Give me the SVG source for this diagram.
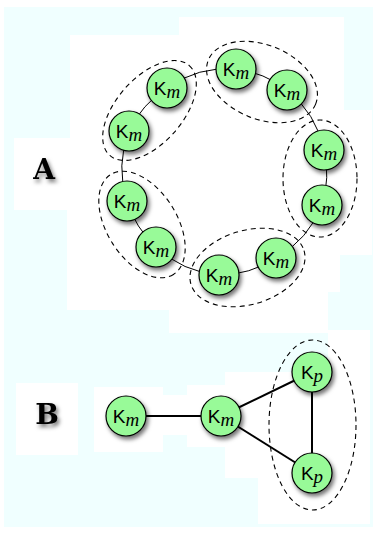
<svg xmlns="http://www.w3.org/2000/svg" width="378" height="533" viewBox="0 0 378 533">
<defs>
<filter id="sh" x="-30%" y="-30%" width="170%" height="170%">
<feDropShadow dx="2" dy="3" stdDeviation="2" flood-color="#000" flood-opacity="0.55"/>
</filter>
<style>
.node{fill:#98FA98;stroke:#000;stroke-width:1.2;filter:url(#sh)}
.lbl{font-size:19px;fill:#000}
.k{font-family:"Liberation Sans",Arial,sans-serif}
.s{font-family:"Liberation Serif","Times New Roman",serif;font-style:italic}
.grp{fill:none;stroke:#000;stroke-width:1.1;stroke-dasharray:5 4}
.ring{fill:none;stroke:#000;stroke-width:1}
.thick{fill:none;stroke:#000;stroke-width:2}
.big{font-family:"DejaVu Serif","Liberation Serif",serif;font-weight:bold;font-size:28px;fill:#000;filter:url(#sh)}
</style>
</defs>
<rect x="0" y="0" width="378" height="533" fill="#fff"/>
<rect x="4" y="7" width="369" height="520" fill="#F0FFFF"/>
<g id="background" fill="#fff">
<path d="M179,17 H344 V110 H372 V255 H340 V292 H328 V333 H169 V310 H67 V210 H14 V138 H70 V35 H179 Z"/>
<rect x="328" y="330" width="42" height="44"/>
<rect x="225" y="372" width="145" height="106"/>
<rect x="258" y="476" width="112" height="48"/>
<rect x="187" y="385" width="40" height="62"/>
<rect x="162" y="395" width="26" height="40"/>
<rect x="94" y="387" width="69" height="65"/>
<rect x="16" y="383" width="62" height="72"/>
</g>
<g id="labels">
<text class="big" x="44" y="179" text-anchor="middle">A</text>
<text class="big" x="47" y="424" text-anchor="middle">B</text>
</g>
<g id="groups">
<ellipse class="grp" cx="149.5" cy="110.5" rx="60" ry="33" transform="rotate(-48.5 149.5 110.5)"/>
<ellipse class="grp" cx="262" cy="82" rx="58" ry="37" transform="rotate(22.4 262 82)"/>
<ellipse class="grp" cx="320" cy="178.5" rx="37" ry="58.5"/>
<ellipse class="grp" cx="142" cy="224.5" rx="59" ry="35" transform="rotate(57.8 142 224.5)"/>
<ellipse class="grp" cx="247.5" cy="267.5" rx="59" ry="37" transform="rotate(-16.6 247.5 267.5)"/>
<ellipse class="grp" cx="312.5" cy="425" rx="43.5" ry="85"/>
</g>
<g id="connectors">
<path class="ring" d="M129,131 A105,105 0 0 1 167,88 A105,105 0 0 1 236,69 A105,105 0 0 1 287,90 A105,105 0 0 1 324,150 A105,105 0 0 1 322,205 A105,105 0 0 1 276,258 A105,105 0 0 1 219,275 A105,105 0 0 1 156,247 A105,105 0 0 1 127,201 A105,105 0 0 1 129,131"/>
<line class="thick" x1="126" y1="416" x2="221" y2="416"/>
<line class="thick" x1="221" y1="416" x2="312" y2="372"/>
<line class="thick" x1="221" y1="416" x2="312" y2="473"/>
<line class="thick" x1="312" y1="372" x2="312" y2="473"/>
</g>
<g id="n1"><circle class="node" cx="167" cy="88" r="20"/><text class="lbl" x="167" y="95" text-anchor="middle"><tspan class="k">K</tspan><tspan class="s" dy="3">m</tspan></text></g>
<g id="n2"><circle class="node" cx="129" cy="131" r="20"/><text class="lbl" x="129" y="138" text-anchor="middle"><tspan class="k">K</tspan><tspan class="s" dy="3">m</tspan></text></g>
<g id="n3"><circle class="node" cx="236" cy="69" r="20"/><text class="lbl" x="236" y="76" text-anchor="middle"><tspan class="k">K</tspan><tspan class="s" dy="3">m</tspan></text></g>
<g id="n4"><circle class="node" cx="287" cy="90" r="20"/><text class="lbl" x="287" y="97" text-anchor="middle"><tspan class="k">K</tspan><tspan class="s" dy="3">m</tspan></text></g>
<g id="n5"><circle class="node" cx="324" cy="150" r="20"/><text class="lbl" x="324" y="157" text-anchor="middle"><tspan class="k">K</tspan><tspan class="s" dy="3">m</tspan></text></g>
<g id="n6"><circle class="node" cx="322" cy="205" r="20"/><text class="lbl" x="322" y="212" text-anchor="middle"><tspan class="k">K</tspan><tspan class="s" dy="3">m</tspan></text></g>
<g id="n7"><circle class="node" cx="127" cy="201" r="20"/><text class="lbl" x="127" y="208" text-anchor="middle"><tspan class="k">K</tspan><tspan class="s" dy="3">m</tspan></text></g>
<g id="n8"><circle class="node" cx="156" cy="247" r="20"/><text class="lbl" x="156" y="254" text-anchor="middle"><tspan class="k">K</tspan><tspan class="s" dy="3">m</tspan></text></g>
<g id="n9"><circle class="node" cx="219" cy="275" r="20"/><text class="lbl" x="219" y="282" text-anchor="middle"><tspan class="k">K</tspan><tspan class="s" dy="3">m</tspan></text></g>
<g id="n10"><circle class="node" cx="276" cy="258" r="20"/><text class="lbl" x="276" y="265" text-anchor="middle"><tspan class="k">K</tspan><tspan class="s" dy="3">m</tspan></text></g>
<g id="b1"><circle class="node" cx="126" cy="416" r="20"/><text class="lbl" x="126" y="423" text-anchor="middle"><tspan class="k">K</tspan><tspan class="s" dy="3">m</tspan></text></g>
<g id="b2"><circle class="node" cx="221" cy="416" r="20"/><text class="lbl" x="221" y="423" text-anchor="middle"><tspan class="k">K</tspan><tspan class="s" dy="3">m</tspan></text></g>
<g id="b3"><circle class="node" cx="312" cy="372" r="20"/><text class="lbl" x="312" y="379" text-anchor="middle"><tspan class="k">K</tspan><tspan class="s" dy="3">p</tspan></text></g>
<g id="b4"><circle class="node" cx="312" cy="473" r="20"/><text class="lbl" x="312" y="480" text-anchor="middle"><tspan class="k">K</tspan><tspan class="s" dy="3">p</tspan></text></g>
</svg>
